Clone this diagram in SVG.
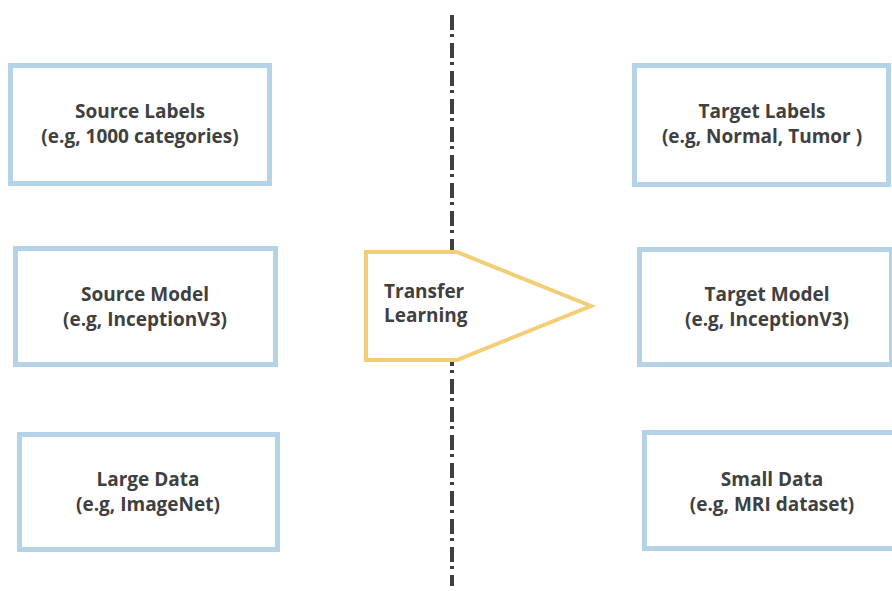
<svg xmlns="http://www.w3.org/2000/svg" width="892" height="591" viewBox="0 0 892 591">
<style>
.box{fill:#fff;stroke:#B5D3E7;stroke-width:5}
.t{font-family:"Open Sans","Liberation Sans",sans-serif;font-weight:700;font-size:19px;fill:#404040;text-anchor:middle}
.tl{font-family:"Open Sans","Liberation Sans",sans-serif;font-weight:700;font-size:19px;fill:#404040}
.arrow{fill:#fff;stroke:#F2CF77;stroke-width:4;stroke-linejoin:miter}
.divider{stroke:#404040;stroke-width:4;fill:none;stroke-dasharray:15 4 3 6}
</style>
<rect width="892" height="591" fill="#fff"/>
<g id="connectors">
<line class="divider" x1="452" y1="15" x2="452" y2="586"/>
</g>
<g id="source-labels">
<rect class="box" x="10.5" y="65.5" width="259" height="118"/>
<text class="t" x="140" y="118">Source Labels</text>
<text class="t" x="140" y="143">(e.g, 1000 categories)</text>
</g>
<g id="source-model">
<rect class="box" x="15.5" y="248.5" width="260" height="116"/>
<text class="t" x="145" y="301">Source Model</text>
<text class="t" x="145" y="326">(e.g, InceptionV3)</text>
</g>
<g id="large-data">
<rect class="box" x="19.5" y="434.5" width="258" height="115"/>
<text class="t" x="148" y="486">Large Data</text>
<text class="t" x="148" y="511">(e.g, ImageNet)</text>
</g>
<g id="target-labels">
<rect class="box" x="634.5" y="65.5" width="254" height="119"/>
<text class="t" x="762" y="118">Target Labels</text>
<text class="t" x="762" y="143">(e.g, Normal, Tumor )</text>
</g>
<g id="target-model">
<rect class="box" x="639.5" y="249.5" width="252" height="115"/>
<text class="t" x="767" y="301">Target Model</text>
<text class="t" x="767" y="326">(e.g, InceptionV3)</text>
</g>
<g id="small-data">
<rect class="box" x="644.5" y="432.5" width="250" height="116"/>
<text class="t" x="772" y="486">Small Data</text>
<text class="t" x="772" y="511">(e.g, MRI dataset)</text>
</g>
<g id="transfer-learning">
<polygon class="arrow" points="366,252 457,252 591,306 457,360 366,360"/>
<text class="tl" x="384" y="298">Transfer</text>
<text class="tl" x="384" y="322">Learning</text>
</g>
</svg>
